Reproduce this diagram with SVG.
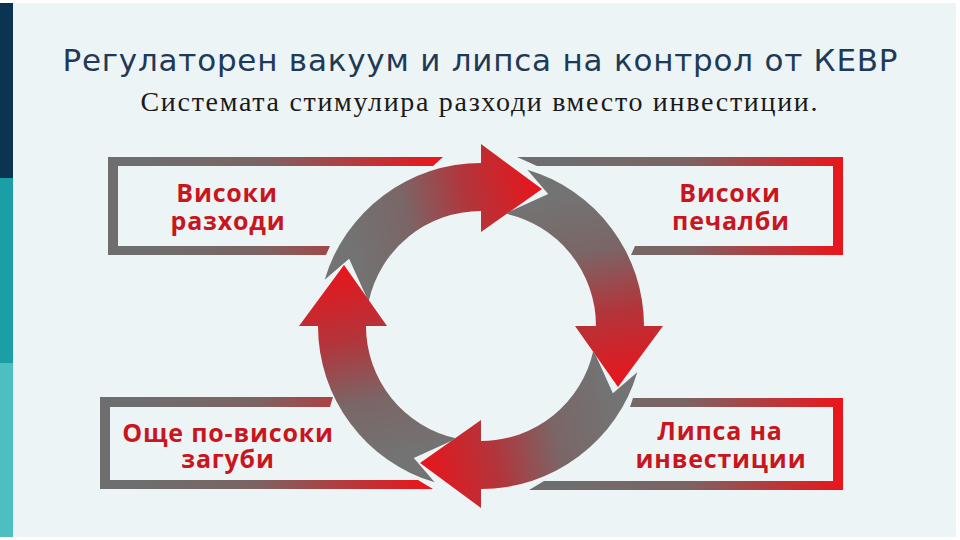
<svg xmlns="http://www.w3.org/2000/svg" xmlns:xlink="http://www.w3.org/1999/xlink" width="960" height="540" viewBox="0 0 960 540">
  <style>
    .title { font-family: "DejaVu Sans", "Open Sans", sans-serif; font-size: 31px; fill: #1e3a56; }
    .sub { font-family: "Liberation Serif", "DejaVu Serif", serif; font-size: 28px; fill: #1a1a1a; }
    .lbl { font-family: "Open Sans", "Noto Sans", "DejaVu Sans", sans-serif; font-size: 25px; font-weight: 700; letter-spacing: 0.8px; fill: #c9161e; text-anchor: middle; }
  </style>
  <defs>
    <linearGradient id="gArrow" gradientUnits="userSpaceOnUse" x1="350" y1="240" x2="545" y2="200">
      <stop offset="0" stop-color="#737373"/>
      <stop offset="0.3" stop-color="#7a6667"/>
      <stop offset="0.62" stop-color="#b2353b"/>
      <stop offset="1" stop-color="#ea141b"/>
    </linearGradient>
    <linearGradient id="gTL" gradientUnits="userSpaceOnUse" x1="150" y1="0" x2="440" y2="0">
      <stop offset="0" stop-color="#6e6e6e"/>
      <stop offset="0.4" stop-color="#7c6363"/>
      <stop offset="1" stop-color="#ea151b"/>
    </linearGradient>
    <linearGradient id="gTR" gradientUnits="userSpaceOnUse" x1="560" y1="0" x2="843" y2="0">
      <stop offset="0" stop-color="#6e6e6e"/>
      <stop offset="0.45" stop-color="#7c6363"/>
      <stop offset="1" stop-color="#ea151b"/>
    </linearGradient>
    <linearGradient id="gBL" gradientUnits="userSpaceOnUse" x1="140" y1="0" x2="430" y2="0">
      <stop offset="0" stop-color="#6e6e6e"/>
      <stop offset="0.4" stop-color="#7c6363"/>
      <stop offset="1" stop-color="#ea151b"/>
    </linearGradient>
    <linearGradient id="gBR" gradientUnits="userSpaceOnUse" x1="560" y1="0" x2="843" y2="0">
      <stop offset="0" stop-color="#6e6e6e"/>
      <stop offset="0.45" stop-color="#7c6363"/>
      <stop offset="1" stop-color="#ea151b"/>
    </linearGradient>
    <path id="arrow" fill="url(#gArrow)" d="M 324.7 279.7 A 163 163 0 0 1 481 163 L 481 144 L 542 189 L 481 232 L 481 211 A 115 115 0 0 0 368.6 301.7 L 349.1 258.8 Z"/>
  </defs>

  <rect x="0" y="0" width="960" height="540" fill="#ffffff"/>
  <rect x="0" y="3" width="956" height="534" fill="#edf4f6"/>
  <g id="sidebar">
    <rect x="0" y="3" width="13" height="175" fill="#0b3352"/>
    <rect x="0" y="178" width="13" height="185" fill="#1b9ea6"/>
    <rect x="0" y="363" width="13" height="174" fill="#4dbfc0"/>
  </g>

  <g id="title">
    <text class="title" x="480" y="71" text-anchor="middle" textLength="835">Регулаторен вакуум и липса на контрол от КЕВР</text>
    <text class="sub" x="479" y="111" text-anchor="middle" textLength="677">Системата стимулира разходи вместо инвестиции.</text>
  </g>

  <g id="connectors">
    <use xlink:href="#arrow" href="#arrow"/>
    <use xlink:href="#arrow" href="#arrow" transform="rotate(90 481 326)"/>
    <use xlink:href="#arrow" href="#arrow" transform="rotate(180 481 326)"/>
    <use xlink:href="#arrow" href="#arrow" transform="rotate(270 481 326)"/>
  </g>

  <g id="node-high-costs">
    <path fill="url(#gTL)" d="M108 157 L443 157 L433 166 L118 166 L118 246 L330 246 L326 255 L108 255 Z"/>
    <text class="lbl" x="227" y="202">Високи</text>
    <text class="lbl" x="228" y="230">разходи</text>
  </g>

  <g id="node-high-profits">
    <path fill="url(#gTR)" d="M517 157 L843 157 L843 255 L631 255 L635 246 L833 246 L833 166 L537 166 Z"/>
    <text class="lbl" x="730" y="202">Високи</text>
    <text class="lbl" x="731" y="230">печалби</text>
  </g>

  <g id="node-lack-investment">
    <path fill="url(#gBR)" d="M633 398 L843 398 L843 490 L529 490 L544 481 L833 481 L833 407 L630 407 Z"/>
    <text class="lbl" x="720" y="440">Липса на</text>
    <text class="lbl" x="721" y="468">инвестиции</text>
  </g>

  <g id="node-higher-losses">
    <path fill="url(#gBL)" d="M100 397 L333 397 L330 407 L110 407 L110 480 L418 480 L433 489 L100 489 Z"/>
    <text class="lbl" x="228" y="442">Още по-високи</text>
    <text class="lbl" x="228" y="468">загуби</text>
  </g>
</svg>
